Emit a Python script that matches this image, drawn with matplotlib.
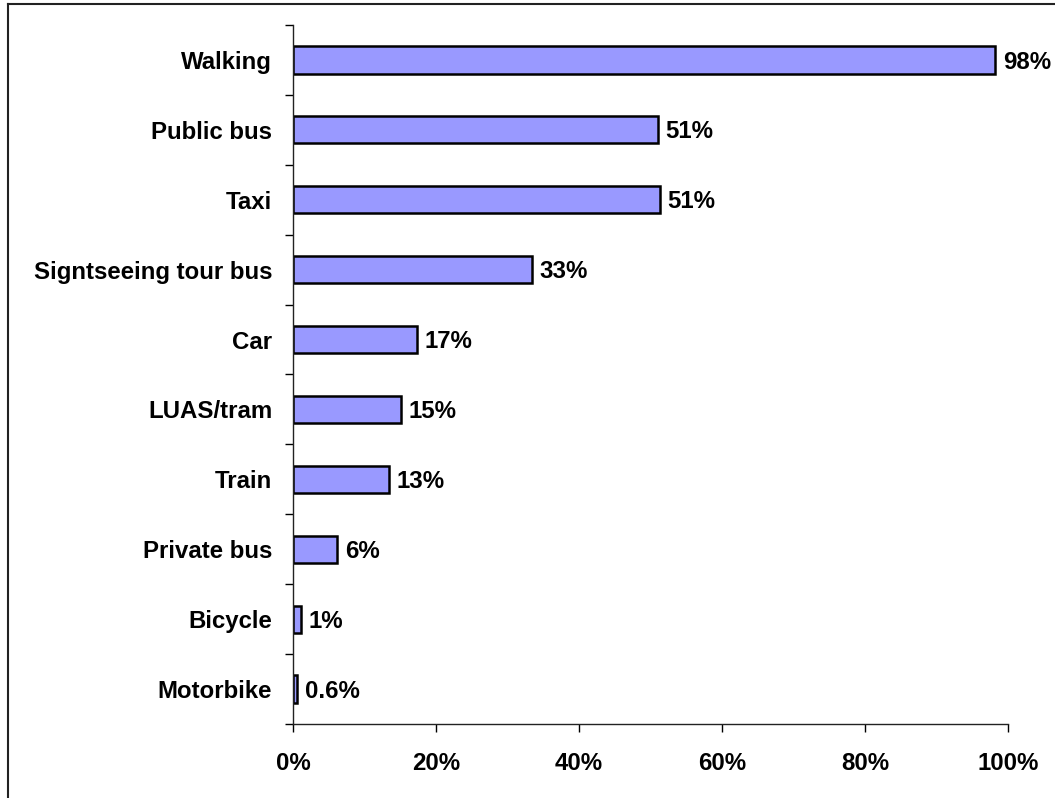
import matplotlib.pyplot as plt
from matplotlib.lines import Line2D

plt.rcParams['font.family'] = ['Liberation Sans', 'DejaVu Sans']
plt.rcParams['font.weight'] = 'bold'

categories = ["Walking", "Public bus", "Taxi", "Signtseeing tour bus", "Car",
              "LUAS/tram", "Train", "Private bus", "Bicycle", "Motorbike"]
values = [98.2, 51.0, 51.3, 33.4, 17.3, 15.1, 13.4, 6.2, 1.1, 0.6]
value_labels = ["98%", "51%", "51%", "33%", "17%", "15%", "13%", "6%", "1%", "0.6%"]
x_ticks = [0, 20, 40, 60, 80, 100]

FS = 17.3

fig = plt.figure(figsize=(10.55, 7.98), dpi=100)
ax = fig.add_axes([293 / 1055, 1 - 724 / 798, 715 / 1055, 699 / 798])

pos = list(range(len(categories)))
ax.barh(pos, values, height=0.39, color='#9999ff', edgecolor='black', linewidth=1.8)

for p, v, lab in zip(pos, values, value_labels):
    ax.annotate(lab, (v, p), xytext=(5.5, -1.5), textcoords='offset points',
                va='center', ha='left', fontsize=FS, fontweight='bold')

ax.set_xlim(0, 100)
ax.set_ylim(len(categories) - 0.5, -0.5)

ax.set_yticks(pos)
ax.set_yticklabels(categories, fontsize=FS, fontweight='bold')
ax.tick_params(axis='y', which='major', length=0, pad=15)
ax.set_yticks([p - 0.5 for p in pos] + [len(pos) - 0.5], minor=True)
ax.tick_params(axis='y', which='minor', length=6, width=1, direction='out')

ax.set_xticks(x_ticks)
ax.set_xticklabels([f"{t}%" for t in x_ticks], fontsize=FS, fontweight='bold')
ax.tick_params(axis='x', length=6, width=1, direction='out', pad=14)

for s in ['top', 'right']:
    ax.spines[s].set_visible(False)
for s in ['left', 'bottom']:
    ax.spines[s].set_linewidth(1)
    ax.spines[s].set_color('#222222')

# frame around the whole chart area
x0, y1 = 8 / 1055, 1 - 4 / 798
fig.add_artist(Line2D([x0, x0], [0, y1], transform=fig.transFigure, color='#222222', lw=1.5))
fig.add_artist(Line2D([x0, 1], [y1, y1], transform=fig.transFigure, color='#222222', lw=1.5))

fig.savefig('out.png', dpi=100)
